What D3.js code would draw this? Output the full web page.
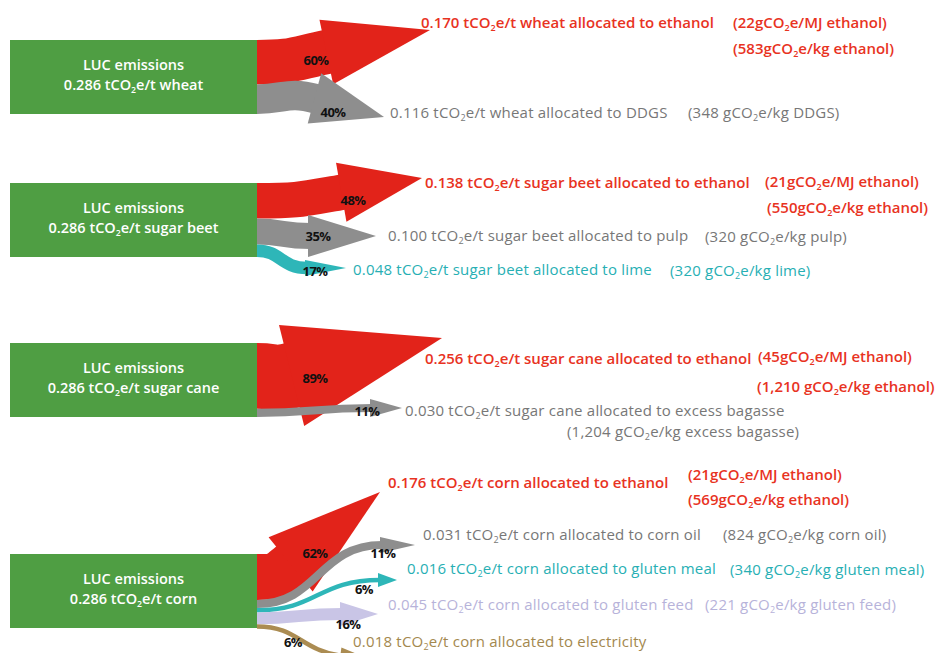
<!DOCTYPE html>
<html>
<head>
<meta charset="utf-8">
<script src="https://cdn.jsdelivr.net/npm/d3@7"></script>
<style>
body { margin: 0; background: #fff; }
svg { display: block; font-family: 'Open Sans', sans-serif; }
</style>
</head>
<body>
<svg id="chart" width="941" height="653"></svg>
<script>
// data
const crops = ['wheat', 'sugar beet', 'sugar cane', 'corn']
const totals = ['0.286', '0.286', '0.286', '0.286']
const shares = [[60, 40], [48, 35, 17], [89, 11], [62, 11, 6, 16, 6]]
const products = [
  ['ethanol', 'DDGS'],
  ['ethanol', 'pulp', 'lime'],
  ['ethanol', 'excess bagasse'],
  ['ethanol', 'corn oil', 'gluten meal', 'gluten feed', 'electricity']
]
const allocated = [
  ['0.170', '0.116'],
  ['0.138', '0.100', '0.048'],
  ['0.256', '0.030'],
  ['0.176', '0.031', '0.016', '0.045', '0.018']
]
const perUnit = [
  [['(22gCO2e/MJ ethanol)', '(583gCO2e/kg ethanol)'], ['(348 gCO2e/kg DDGS)']],
  [['(21gCO2e/MJ ethanol)', '(550gCO2e/kg ethanol)'], ['(320 gCO2e/kg pulp)'], ['(320 gCO2e/kg lime)']],
  [['(45gCO2e/MJ ethanol)', '(1,210 gCO2e/kg ethanol)'], ['(1,204 gCO2e/kg excess bagasse)']],
  [['(21gCO2e/MJ ethanol)', '(569gCO2e/kg ethanol)'], ['(824 gCO2e/kg corn oil)'], ['(340 gCO2e/kg gluten meal)'], ['(221 gCO2e/kg gluten feed)'], []]
]

const color = d3.scaleOrdinal()
  .domain(['ethanol', 'DDGS', 'pulp', 'excess bagasse', 'corn oil', 'lime', 'gluten meal', 'gluten feed', 'electricity'])
  .range(['#e2231a', '#8e8e8e', '#8e8e8e', '#8e8e8e', '#8e8e8e', '#2eb6b8', '#2eb6b8', '#c9c5e6', '#ab8c52'])
const textColor = d3.scaleOrdinal()
  .domain(color.domain())
  .range(['#e8331f', '#777777', '#777777', '#777777', '#777777', '#27afb4', '#27afb4', '#b7b3da', '#a3884e'])

// layout (hand placed to follow the figure)
const box = { x: 10, w: 247, h: 74 }
const boxTop = [40, 183, 343, 554]
// arrow head: tip x, tip y, angle (deg), length, half width
const heads = [
  [[430, 30, -12, 106, 33], [384, 117, 15, 72, 26]],
  [[422, 178, -10, 82, 30], [376, 236, 0, 68, 21], [346, 268, 0, 41, 8]],
  [[442, 338, -14, 155, 52], [402, 408, 0, 32, 9]],
  [[380, 492, -39, 115, 35], [415, 545, 0, 35, 8], [397, 580, 0, 19, 7], [378, 614, 0, 38, 12], [372, 660, 8, 32, 8]]
]
const pctPos = [
  [[316, 60], [333, 112]],
  [[353, 200], [318, 236], [315, 271]],
  [[315, 378], [367, 411]],
  [[315, 553], [383, 553], [364, 589], [348, 624], [293, 642]]
]
// main label x, y; extra line positions
const labelPos = [
  [[421, 23, [[733, 23], [733, 49]]], [390, 113, [[688, 113]]]],
  [[425, 183, [[765, 182], [767, 208]]], [388, 236, [[705, 237]]], [353, 270, [[670, 271]]]],
  [[425, 359, [[758, 357], [757, 387]]], [405, 411, [[567, 432]]]],
  [[388, 483, [[688, 475], [688, 500]]], [423, 535, [[723, 535]]], [407, 569, [[730, 570]]], [388, 605, [[705, 605]]], [353, 642, []]]
]

const svg = d3.select('#chart')
const width = d3.scaleLinear().domain([0, 100]).range([0, box.h])

function richText (sel, str) {
  const parts = str.split('CO2')
  parts.forEach((p, i) => {
    sel.append('tspan').attr('dy', i === 0 ? null : -3).text(p)
    if (i < parts.length - 1) {
      sel.append('tspan').text('CO')
      sel.append('tspan').attr('dy', 3).attr('font-size', '0.6em').text('2')
    }
  })
}

const rad = Math.PI / 180

crops.forEach((crop, c) => {
  const g = svg.append('g')
  let y0 = boxTop[c]
  shares[c].forEach((s, i) => {
    const w = width(s)
    const yc = y0 + w / 2
    y0 += w
    const [tx, ty, ang, L, H] = heads[c][i]
    const a = ang * rad
    const bx = tx - L * Math.cos(a)
    const by = ty - L * Math.sin(a)
    const k = Math.max(20, (bx - box.x - box.w) * 0.5)
    const ex = bx + 2 * Math.cos(a)
    const ey = by + 2 * Math.sin(a)
    const path = d3.path()
    path.moveTo(box.x + box.w, yc)
    path.bezierCurveTo(box.x + box.w + k, yc, bx - k * Math.cos(a), by - k * Math.sin(a), ex, ey)
    const col = color(products[c][i])
    g.append('path')
      .attr('d', path.toString())
      .attr('fill', 'none')
      .attr('stroke', col)
      .attr('stroke-width', w)
    const px = -Math.sin(a)
    const py = Math.cos(a)
    g.append('path')
      .attr('d', d3.line()([[bx + px * H, by + py * H], [tx, ty], [bx - px * H, by - py * H]]) + 'Z')
      .attr('fill', col)
  })

  g.append('rect')
    .attr('x', box.x)
    .attr('y', boxTop[c])
    .attr('width', box.w)
    .attr('height', box.h)
    .attr('fill', '#4f9e43')

  const bt = g.append('text')
    .attr('text-anchor', 'middle')
    .attr('fill', '#fff')
    .attr('font-size', 14.5)
    .attr('font-weight', 600)
  bt.append('tspan').attr('x', box.x + box.w / 2).attr('y', boxTop[c] + 30).text('LUC emissions')
  const l2 = bt.append('tspan').attr('x', box.x + box.w / 2).attr('y', boxTop[c] + 50)
  richText(l2, totals[c] + ' tCO2e/t ' + crop)

  shares[c].forEach((s, i) => {
    g.append('text')
      .attr('x', pctPos[c][i][0])
      .attr('y', pctPos[c][i][1] + 4.5)
      .attr('text-anchor', 'middle')
      .attr('font-size', 13)
      .attr('font-weight', 700)
      .attr('letter-spacing', -0.5)
      .attr('fill', '#111')
      .text(s + '%')

    const tc = textColor(products[c][i])
    const red = products[c][i] === 'ethanol'
    const [lx, ly, extras] = labelPos[c][i]
    const t = g.append('text')
      .attr('x', lx).attr('y', ly + 5)
      .attr('font-size', 15).attr('font-weight', red ? 600 : 500)
      .attr('letter-spacing', red ? 0 : 0.2).attr('fill', tc)
    richText(t, allocated[c][i] + ' tCO2e/t ' + crop + ' allocated to ' + products[c][i])
    perUnit[c][i].forEach((str, j) => {
      const e = g.append('text')
        .attr('x', extras[j][0]).attr('y', extras[j][1] + 5)
        .attr('font-size', 15).attr('font-weight', red ? 600 : 500)
        .attr('letter-spacing', red ? 0 : 0.2).attr('fill', tc)
      richText(e, str)
    })
  })
})
</script>
</body>
</html>
